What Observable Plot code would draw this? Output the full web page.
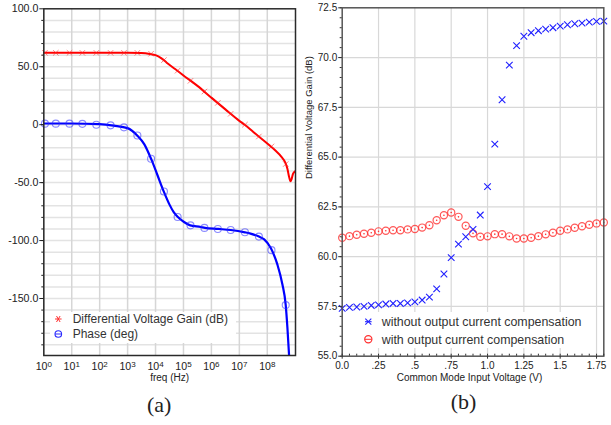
<!DOCTYPE html>
<html><head><meta charset="utf-8">
<script src="https://cdn.jsdelivr.net/npm/d3@7"></script>
<script src="https://cdn.jsdelivr.net/npm/@observablehq/plot@0.6"></script>
<style>
body{margin:0;background:#fff;}
#wrap{position:relative;width:611px;height:425px;font-family:"Liberation Sans",Arial,sans-serif;overflow:hidden;}
#pa{position:absolute;left:0;top:0;}
#pb{position:absolute;left:300px;top:0;}
.legend{position:absolute;background:#fff;color:#333;}
.legend .row{position:absolute;white-space:nowrap;line-height:14px;height:14px;}
.legend svg{position:absolute;left:0;top:0;overflow:visible;}
</style></head><body>
<div id="wrap">
  <div id="pa"></div><div id="pb"></div>
  <div class="legend" id="la" style="left:50px;top:312px;width:186px;height:31px;font-size:12px;">
    <svg width="186" height="31"><g stroke="#ff3030" stroke-width="1"><line x1="5" y1="7" x2="11.6" y2="7"/><line x1="6.5" y1="4" x2="10.1" y2="10"/><line x1="10.1" y1="4" x2="6.5" y2="10"/></g>
    <circle cx="8.3" cy="22" r="3.3" fill="none" stroke="#2a2aff" stroke-width="1.1"/><line x1="5" y1="22" x2="11.6" y2="22" stroke="#2a2aff" stroke-width="1"/></svg>
    <div class="row" style="left:22.7px;top:0px;">Differential Voltage Gain (dB)</div>
    <div class="row" style="left:22.7px;top:15px;">Phase (deg)</div>
  </div>
  <div class="legend" id="lb" style="left:358px;top:312px;width:228px;height:36px;font-size:12.4px;">
    <svg width="228" height="36"><g stroke="#2020ff" stroke-width="1.1"><line x1="7.3" y1="6.7" x2="13.3" y2="12.7"/><line x1="13.3" y1="6.7" x2="7.3" y2="12.7"/><line x1="7" y1="9.7" x2="13.6" y2="9.7"/></g>
    <circle cx="10.3" cy="27.3" r="3.6" fill="none" stroke="#ff3030" stroke-width="1.2"/><line x1="7" y1="27.3" x2="13.6" y2="27.3" stroke="#ff3030" stroke-width="1"/></svg>
    <div class="row" style="left:23.7px;top:3px;">without output current compensation</div>
    <div class="row" style="left:23.7px;top:20.5px;">with output current compensation</div>
  </div>
</div>
<script>
// ---------- Panel (a): Bode plot ----------
// frequencies given as log10(freq / Hz)
const gainLineExp = [0, 1, 2, 3, 3.5, 3.8, 4.0, 4.2, 4.4, 4.7, 5.0, 5.5, 6.0, 6.5, 7.0, 7.19, 7.5, 8.0, 8.3, 8.5, 8.65, 8.72, 8.78, 8.83, 8.87, 8.92, 8.97, 9.01];
const gainLineDb  = [62, 62, 62, 62, 61.8, 61, 60, 57.5, 53.5, 48, 42.5, 33.5, 23.3, 13.2, 3.3, 0, -6.3, -16.2, -22.5, -27.5, -33, -38, -45, -48.8, -47, -42.5, -40.8, -40];
const phaseLineExp = [0, 1, 2, 2.5, 3, 3.35, 3.6, 3.85, 4.06, 4.3, 4.5, 4.65, 4.8, 5.02, 5.24, 5.62, 5.77, 6.25, 6.69, 7.2, 7.4, 7.7, 7.89, 8.12, 8.36, 8.54, 8.66, 8.72, 8.78];
const phaseLineDeg = [1, 1, 0.5, -0.8, -3, -9.5, -17, -30, -43, -58, -69, -75.5, -79.7, -84, -86.9, -88.3, -89.1, -90, -90.9, -92.9, -94, -96.6, -99, -106.3, -120.6, -137.7, -155.7, -175, -199];
const markExp      = [0.04, 0.43, 0.92, 1.38, 1.88, 2.39, 2.87, 3.35, 3.84, 4.3, 4.79, 5.25, 5.75, 6.23, 6.69, 7.2, 7.7, 8.15, 8.66];
const gainMarkDb   = [62, 62, 62, 62, 62, 62, 62, 62, 61.2, 55.7, 46.6, 37.8, 28.6, 18.8, 9.4, 0, -10.2, -18.8, -34];
const phaseMarkDeg = [0.9, 0.9, 0.9, 0.7, 0, -0.6, -2.3, -9.4, -29.4, -57.7, -79.7, -86.9, -89.1, -90, -90.9, -92.9, -96.6, -108.3, -155.7];
const decadeExp = [0, 1, 2, 3, 4, 5, 6, 7, 8];
const aYTicks = [-150, -100, -50, 0, 50, 100];
const aYTickLabels = ["-150.0", "-100.0", "-50.0", "0", "50.0", "100.0"];

// ---------- Panel (b): gain vs common mode voltage ----------
const vcm = [0, 0.05, 0.1, 0.15, 0.2, 0.25, 0.3, 0.35, 0.4, 0.45, 0.5, 0.55, 0.6, 0.65, 0.7, 0.75, 0.8, 0.85, 0.9, 0.95, 1.0, 1.05, 1.1, 1.15, 1.2, 1.25, 1.3, 1.35, 1.4, 1.45, 1.5, 1.55, 1.6, 1.65, 1.7, 1.75, 1.8];
const gainWithout = [57.40, 57.45, 57.47, 57.50, 57.55, 57.58, 57.62, 57.65, 57.65, 57.68, 57.73, 57.82, 57.97, 58.38, 59.13, 59.95, 60.63, 61.00, 61.37, 62.09, 63.52, 65.65, 67.88, 69.62, 70.60, 71.07, 71.25, 71.35, 71.43, 71.50, 71.58, 71.65, 71.70, 71.73, 71.78, 71.82, 71.83];
const gainWith = [60.95, 61.03, 61.10, 61.15, 61.20, 61.27, 61.30, 61.33, 61.33, 61.37, 61.39, 61.46, 61.58, 61.83, 62.08, 62.22, 62.00, 61.55, 61.17, 61.00, 61.02, 61.13, 61.13, 61.02, 60.91, 60.91, 60.95, 61.03, 61.12, 61.20, 61.30, 61.37, 61.45, 61.53, 61.60, 61.67, 61.72];
const bXTicks = [0, 0.25, 0.5, 0.75, 1.0, 1.25, 1.5, 1.75];
const bXTickLabels = ["0.0", ".25", ".5", ".75", "1.0", "1.25", "1.5", "1.75"];
const bYTicks = [55, 57.5, 60, 62.5, 65, 67.5, 70, 72.5];

const font = '"Liberation Sans", Arial, sans-serif';
const gainLine = gainLineExp.map((e, i) => ({f: 10 ** e, v: gainLineDb[i]}));
const phaseLine = phaseLineExp.map((e, i) => ({f: 10 ** e, v: phaseLineDeg[i]}));
const gainMarks = markExp.map((e, i) => ({f: 10 ** e, v: gainMarkDb[i]}));
const phaseMarks = markExp.map((e, i) => ({f: 10 ** e, v: phaseMarkDeg[i]}));

const plotA = Plot.plot({
  width: 300, height: 425,
  marginLeft: 43.3, marginRight: 5, marginTop: 8.3, marginBottom: 70,
  style: {fontFamily: font, fontSize: "10.6px", color: "#222", background: "transparent", overflow: "visible"},
  x: {type: "log", domain: [1, 10 ** 9.01]},
  y: {domain: [-199.2, 100]},
  marks: [
    Plot.gridY(d3.range(-190, 100, 10), {stroke: "#e3e3e3", strokeOpacity: 1, strokeWidth: 1.5}),
    Plot.gridX(decadeExp.map(e => 10 ** e), {stroke: "#d6d6d6", strokeOpacity: 1, strokeWidth: 1.5}),
    Plot.line(gainLine, {x: "f", y: "v", stroke: "#ff0000", strokeWidth: 2, curve: "monotone-x", clip: true}),
    Plot.dot(gainMarks, {x: "f", y: "v", symbol: "times", r: 2.6, stroke: "#ff2020", strokeOpacity: 0.55, strokeWidth: 1}),
    Plot.line(phaseLine, {x: "f", y: "v", stroke: "#0000ff", strokeWidth: 2.2, curve: "monotone-x", clip: true}),
    Plot.dot(phaseMarks, {x: "f", y: "v", symbol: "circle", r: 3.5, stroke: "#2a2aff", strokeOpacity: 0.55, strokeWidth: 1.1, fill: "none"}),
    Plot.frame({stroke: "#2a2a2a", strokeWidth: 1.5}),
    Plot.axisY(aYTicks, {tickSize: 4, tickPadding: 1.5, tickFormat: d => aYTickLabels[aYTicks.indexOf(d)], label: null, stroke: "#222"}),
    Plot.axisY(d3.range(-190, 100, 10), {tickSize: 2, tickFormat: () => "", label: null, stroke: "#222"}),
    Plot.axisX(decadeExp.map(e => 10 ** e), {tickSize: 0, tickPadding: 7, tickFormat: d => String(Math.round(Math.log10(d))), label: null}),
    Plot.text(["freq (Hz)"], {text: d => d, frameAnchor: "bottom", dy: 25, fontSize: 10, fill: "#222"}),
    Plot.text(["(a)"], {text: d => d, frameAnchor: "bottom", dx: -10.5, dy: 56, fontSize: 22, fontFamily: '"Liberation Serif", "DejaVu Serif", serif', fill: "#222"})
  ]
});
d3.select(plotA).selectAll('g[aria-label="x-axis tick label"] text').each(function() {
  const t = d3.select(this);
  const e = t.text();
  t.text(null);
  t.append("tspan").text("10");
  t.append("tspan").attr("dy", "-0.42em").attr("font-size", "0.76em").text(e);
});
document.getElementById("pa").append(plotA);

const ptsWithout = vcm.map((v, i) => ({v, g: gainWithout[i]}));
const ptsWith = vcm.map((v, i) => ({v, g: gainWith[i]}));

const plotB = Plot.plot({
  width: 311, height: 425,
  marginLeft: 41.7, marginRight: 7.7, marginTop: 7.3, marginBottom: 69.3,
  style: {fontFamily: font, fontSize: "10px", color: "#222", background: "transparent", overflow: "visible"},
  x: {domain: [0, 1.8]},
  y: {domain: [55, 72.5]},
  marks: [
    Plot.gridX(bXTicks.slice(1), {stroke: "#d8d8d8", strokeOpacity: 1, strokeWidth: 1.2}),
    Plot.gridY(bYTicks.slice(1, -1), {stroke: "#d8d8d8", strokeOpacity: 1, strokeWidth: 1.2}),
    Plot.dot(ptsWith, {x: "v", y: "g", symbol: "circle", r: 3.6, stroke: "#ff3030", strokeOpacity: 0.8, strokeWidth: 1.2, fill: "none"}),
    Plot.dot(ptsWith, {x: "v", y: "g", r: 0.8, fill: "#ff3030", stroke: null}),
    Plot.dot(ptsWithout, {x: "v", y: "g", symbol: "times", r: 3.1, stroke: "#2020ff", strokeWidth: 1.1}),
    Plot.frame({stroke: "#555", strokeWidth: 1.5}),
    Plot.axisY(bYTicks, {tickSize: 3.5, tickPadding: 1.5, tickFormat: d3.format(".1f"), label: null, stroke: "#333"}),
    Plot.axisY(d3.range(55, 72.6, 0.5), {tickSize: 2, tickFormat: () => "", label: null, stroke: "#333"}),
    Plot.axisX(bXTicks, {tickSize: 3, tickPadding: 3, tickFormat: d => bXTickLabels[bXTicks.indexOf(d)], label: null, stroke: "#333"}),
    Plot.axisX(d3.range(0, 1.801, 0.05), {tickSize: -2, tickFormat: () => "", label: null, stroke: "#333"}),
    Plot.text(["Common Mode Input Voltage (V)"], {text: d => d, frameAnchor: "bottom", dx: -3.5, dy: 25, fontSize: 10, fill: "#222"}),
    Plot.text(["Differential Voltage Gain (dB)"], {text: d => d, frameAnchor: "left", rotate: -90, dx: -33.7, dy: -3, fontSize: 9.5, fill: "#222"}),
    Plot.text(["(b)"], {text: d => d, frameAnchor: "bottom", dx: -9.5, dy: 52.5, fontSize: 22, fontFamily: '"Liberation Serif", "DejaVu Serif", serif', fill: "#222"})
  ]
});
document.getElementById("pb").append(plotB);
</script>
</body></html>
